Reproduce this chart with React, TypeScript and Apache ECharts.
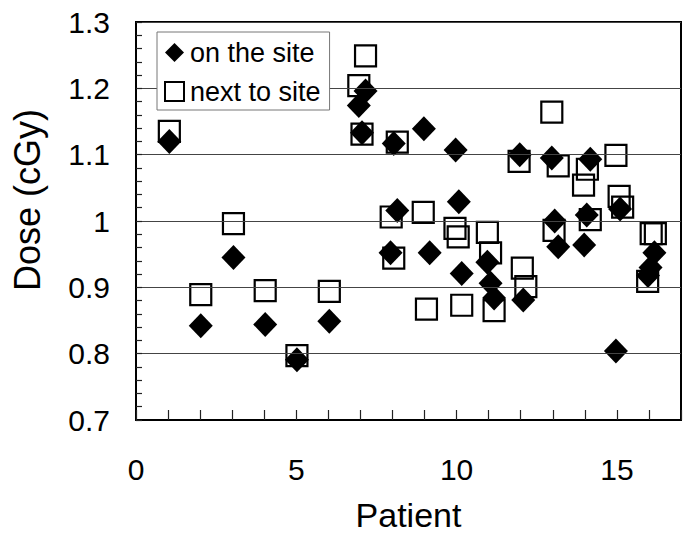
import React, { useEffect, useRef } from "react";
import * as echarts from "echarts";

// "on the site" (filled diamonds): [patient, dose]
const onSite: [number, number][] = [
  [1.04, 1.12], [2.02, 0.842], [3.04, 0.945], [4.03, 0.844], [5.02, 0.791], [6.03, 0.849],
  [6.95, 1.174], [7.16, 1.196], [7.05, 1.133],
  [8.04, 1.117], [7.94, 0.952], [8.15, 1.016],
  [8.98, 1.139], [9.16, 0.952],
  [9.97, 1.107], [10.07, 1.029], [10.16, 0.921],
  [10.96, 0.938], [11.06, 0.906], [11.17, 0.884],
  [11.97, 1.1], [12.08, 0.881],
  [12.97, 1.095], [13.06, 1.0], [13.17, 0.961],
  [14.17, 1.093], [14.06, 1.009], [13.98, 0.964],
  [15.1, 1.018], [14.97, 0.804],
  [16.17, 0.952], [16.05, 0.93], [15.97, 0.918],
];

// "next to site" (open squares): [patient, dose]
const nextToSite: [number, number][] = [
  [1.04, 1.135], [2.02, 0.889], [3.04, 0.996], [4.03, 0.895], [5.02, 0.797], [6.03, 0.894],
  [7.16, 1.249], [6.95, 1.204], [7.05, 1.131],
  [8.15, 1.119], [7.96, 1.006], [8.04, 0.944],
  [8.96, 1.013], [9.06, 0.867],
  [9.95, 0.989], [10.05, 0.976], [10.16, 0.873],
  [10.96, 0.983], [11.06, 0.952], [11.17, 0.865],
  [11.95, 1.09], [12.05, 0.929], [12.16, 0.901],
  [12.97, 1.164], [13.17, 1.083], [13.04, 0.986],
  [14.08, 1.078], [13.96, 1.054], [14.17, 1.002],
  [14.97, 1.099], [15.07, 1.037], [15.18, 1.021],
  [16.07, 0.981], [16.2, 0.981], [15.96, 0.909],
];

const seriesNames = ["on the site", "next to site"];
const xLabelStep = 5;
const xRange = [0, 17];
const yRange = [0.7, 1.3];
const xTitle = "Patient";
const yTitle = "Dose (cGy)";

const FONT = "'Liberation Sans', Arial, Helvetica, sans-serif";

export default function App() {
  const ref = useRef<HTMLDivElement>(null);
  useEffect(() => {
    if (!ref.current) return;
    const chart = echarts.init(ref.current, null, { renderer: "svg" });
    chart.setOption({
      animation: false,
      backgroundColor: "#ffffff",
      textStyle: { fontFamily: FONT },
      grid: {
        left: 136,
        right: 4,
        top: 22,
        bottom: 111,
        show: true,
        borderColor: "#000",
        borderWidth: 2,
        backgroundColor: "transparent",
        z: 0,
      },
      legend: {
        orient: "vertical",
        left: 157,
        top: 32,
        data: [
          { name: seriesNames[0], icon: "diamond" },
          { name: seriesNames[1], icon: "rect" },
        ],
        itemWidth: 19,
        itemHeight: 19,
        itemGap: 12,
        padding: [7, 9, 5, 7],
        backgroundColor: "#fff",
        borderColor: "#777",
        borderWidth: 1,
        borderRadius: 0,
        textStyle: { fontFamily: FONT, fontSize: 27, color: "#000", padding: [0, 0, 0, 1] },
        z: 10,
      },
      xAxis: {
        type: "value",
        min: xRange[0],
        max: xRange[1],
        interval: 1,
        z: 5,
        axisLine: { show: true, onZero: false, lineStyle: { color: "#000", width: 2 } },
        axisTick: { show: true, inside: true, length: 10, lineStyle: { color: "#222", width: 1.2 } },
        splitLine: { show: false },
        axisLabel: {
          margin: 34,
          fontSize: 30,
          color: "#000",
          fontFamily: FONT,
          formatter: (v: number) => (Math.round(v) % xLabelStep === 0 && v < xRange[1] ? String(v) : ""),
        },
        name: xTitle,
        nameLocation: "middle",
        nameGap: 78,
        nameTextStyle: { fontSize: 34, color: "#000", fontFamily: FONT },
      },
      yAxis: {
        type: "value",
        min: yRange[0],
        max: yRange[1],
        interval: 0.1,
        z: 5,
        axisLine: { show: true, lineStyle: { color: "#000", width: 2 } },
        axisTick: { show: true, inside: true, length: 6, lineStyle: { color: "#222", width: 1.2 } },
        minorTick: { show: true, splitNumber: 5, length: 6, lineStyle: { color: "#222", width: 1.2 } },
        splitLine: { show: true, lineStyle: { color: "#444", width: 1 } },
        axisLabel: { margin: 26, fontSize: 30, color: "#000", fontFamily: FONT },
      },
      graphic: [
        {
          type: "text",
          x: 27,
          y: 200,
          rotation: Math.PI / 2,
          style: {
            text: yTitle,
            font: `36px ${FONT}`,
            fill: "#000",
            textAlign: "center",
            textVerticalAlign: "middle",
          },
        },
      ],
      series: [
        {
          name: seriesNames[1],
          type: "scatter",
          symbol: "rect",
          symbolSize: 21,
          data: nextToSite,
          itemStyle: { color: "rgba(255,255,255,0)", borderColor: "#000", borderWidth: 2.2, opacity: 1 },
          z: 2,
        },
        {
          name: seriesNames[0],
          type: "scatter",
          symbol: "diamond",
          symbolSize: [24, 25],
          data: onSite,
          itemStyle: { color: "#000", opacity: 1 },
          z: 3,
        },
      ],
    });
    return () => chart.dispose();
  }, []);
  return (
    <div
      ref={ref}
      style={{ position: "absolute", left: 0, top: 0, width: 685, height: 537 }}
    />
  );
}
